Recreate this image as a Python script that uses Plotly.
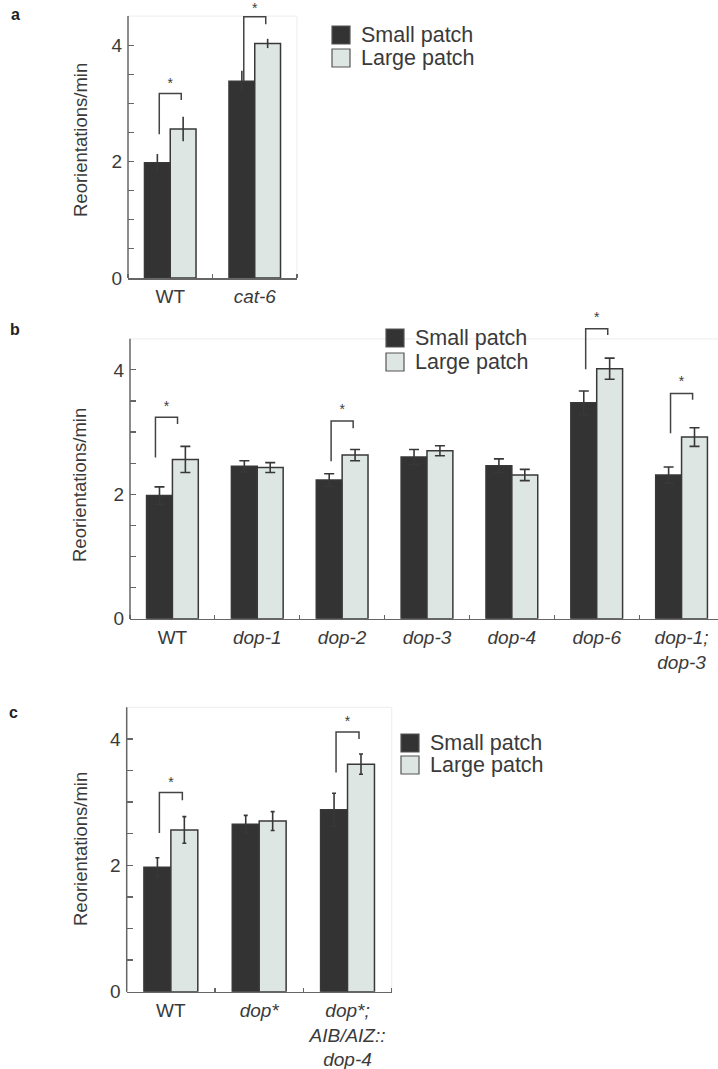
import plotly.graph_objects as go

W, H = 718, 1069

# ---------------- data ----------------
# panel a
a_labels = ["WT", "<i>cat-6</i>"]
a_small = [1.98, 3.38]
a_small_err = [0.15, 0.18]
a_large = [2.56, 4.03]
a_large_err = [0.21, 0.08]
a_sig_cat = [0, 1]
a_sig_shift = [0.0, 0.0]
a_sig_left = [2.47, 3.38]
a_sig_top = [3.17, 4.49]
a_sig_right = [3.06, 4.36]
a_sig_star = [3.33, 4.61]

# panel b
b_labels = ["WT", "<i>dop-1</i>", "<i>dop-2</i>", "<i>dop-3</i>", "<i>dop-4</i>",
            "<i>dop-6</i>", "<i>dop-1;<br>dop-3</i>"]
b_small = [1.98, 2.45, 2.23, 2.60, 2.46, 3.47, 2.31]
b_small_err = [0.14, 0.09, 0.10, 0.12, 0.11, 0.19, 0.13]
b_large = [2.56, 2.43, 2.63, 2.70, 2.31, 4.02, 2.92]
b_large_err = [0.21, 0.08, 0.09, 0.08, 0.09, 0.17, 0.15]
b_sig_cat = [0, 2, 5, 6]
b_sig_shift = [-0.07, 0.0, 0.0, 0.0]
b_sig_left = [2.59, 2.53, 4.01, 2.98]
b_sig_top = [3.24, 3.18, 4.66, 3.62]
b_sig_right = [3.13, 3.06, 4.56, 3.52]
b_sig_star = [3.40, 3.34, 4.83, 3.80]

# panel c
c_labels = ["WT", "<i>dop*</i>", "<i>dop*;<br>AIB/AIZ::<br>dop-4</i>"]
c_small = [1.97, 2.65, 2.88]
c_small_err = [0.15, 0.14, 0.26]
c_large = [2.56, 2.70, 3.60]
c_large_err = [0.21, 0.15, 0.16]
c_sig_cat = [0, 2]
c_sig_shift = [0.0, 0.0]
c_sig_left = [2.51, 3.47]
c_sig_top = [3.15, 4.11]
c_sig_right = [3.03, 4.00]
c_sig_star = [3.30, 4.26]

y_tickvals = [0, 0.5, 1, 1.5, 2, 2.5, 3, 3.5, 4]
y_ticktext = ["0", "", "", "", "2", "", "", "", "4"]
series_names = ["Small patch", "Large patch"]
y_title = "Reorientations/min"
panel_letters = ["a", "b", "c"]

# ---------------- style ----------------
DARK = "#333333"
LIGHT = "#dee6e4"
EDGE = "#383838"
AXIS = "#666666"
FAINT = "#f0f0f0"
TXT = "#3a3a3a"
FONT = "Liberation Sans, Arial, Helvetica, sans-serif"
AXTOP = 4.5
HALF = 0.13

panels = [
    dict(labels=a_labels, small=a_small, se=a_small_err, large=a_large, le=a_large_err,
         sc=a_sig_cat, ss=a_sig_shift, sl=a_sig_left, st=a_sig_top, sr=a_sig_right, sy=a_sig_star,
         left=128, right=297, y0=278, unit=58.2, ytop=4.76, xend=None, cap=0, frame=True,
         leg=(332, 35, 23), title=(80, 140), letter=(15, 15)),
    dict(labels=b_labels, small=b_small, se=b_small_err, large=b_large, le=b_large_err,
         sc=b_sig_cat, ss=b_sig_shift, sl=b_sig_left, st=b_sig_top, sr=b_sig_right, sy=b_sig_star,
         left=130, right=718, y0=618.7, unit=62.2, ytop=4.92, xend=6.5 - 6 / 85, cap=5, frame=False,
         leg=(386, 338, 24), title=(80, 485), letter=(15, 329)),
    dict(labels=c_labels, small=c_small, se=c_small_err, large=c_large, le=c_large_err,
         sc=c_sig_cat, ss=c_sig_shift, sl=c_sig_left, st=c_sig_top, sr=c_sig_right, sy=c_sig_star,
         left=126.7, right=391.7, y0=991.7, unit=63.2, ytop=4.75, xend=None, cap=2, frame=True,
         leg=(401, 743, 22), title=(80, 849), letter=(13, 712)),
]


def px(v):
    return min(1.0, max(0.0, v / W))


def py(v):
    return min(1.0, max(0.0, 1 - v / H))


fig = go.Figure()
shapes = []
annotations = []
layout = {}

for i, p in enumerate(panels):
    sfx = "" if i == 0 else str(i + 1)
    xa, ya = "x" + sfx, "y" + sfx
    n = len(p["labels"])
    xs = list(range(n))
    fig.add_trace(go.Bar(
        x=xs, y=p["small"], name=series_names[0], xaxis=xa, yaxis=ya, showlegend=False,
        marker=dict(color=DARK, line=dict(color=EDGE, width=1.5)),
        error_y=dict(type="data", array=p["se"], color=EDGE, thickness=1.6, width=p["cap"]),
        hoverinfo="skip"))
    fig.add_trace(go.Bar(
        x=xs, y=p["large"], name=series_names[1], xaxis=xa, yaxis=ya, showlegend=False,
        marker=dict(color=LIGHT, line=dict(color=EDGE, width=1.5)),
        error_y=dict(type="data", array=p["le"], color=EDGE, thickness=1.6, width=p["cap"]),
        hoverinfo="skip"))
    # significance brackets
    bx, by = [], []
    for c, s, l, t, r in zip(p["sc"], p["ss"], p["sl"], p["st"], p["sr"]):
        x0, x1 = c + s - HALF, c + s + HALF
        bx += [x0, x0, x1, x1, None]
        by += [l, t, t, r, None]
    fig.add_trace(go.Scatter(x=bx, y=by, mode="lines", xaxis=xa, yaxis=ya,
                             line=dict(color="#444444", width=1.5), showlegend=False,
                             hoverinfo="skip"))
    # stars
    fig.add_trace(go.Scatter(
        x=[c + s for c, s in zip(p["sc"], p["ss"])], y=p["sy"], mode="text",
        text=["*"] * len(p["sc"]), textposition="middle center", cliponaxis=False,
        textfont=dict(family=FONT, size=14, color=TXT), xaxis=xa, yaxis=ya,
        showlegend=False, hoverinfo="skip"))

    xend = p["xend"] if p["xend"] is not None else n - 0.5
    y0 = p["y0"]
    top_px = y0 - p["ytop"] * p["unit"]
    layout["xaxis" + sfx] = dict(
        domain=[px(p["left"]), px(p["right"])], range=[-0.5, xend], anchor=ya,
        tickmode="array", tickvals=xs, ticktext=p["labels"], ticks="",
        minor=dict(tickmode="array", tickvals=[k - 0.5 for k in range(n + 1)],
                   ticks="inside", ticklen=4, tickcolor=AXIS, tickwidth=1.2),
        showline=True, linecolor=AXIS, linewidth=1.5, showgrid=False, zeroline=False,
        tickfont=dict(family=FONT, size=19, color=TXT), ticklabelstandoff=1,
        automargin=False, fixedrange=True)
    layout["yaxis" + sfx] = dict(
        domain=[py(y0), py(top_px)], range=[0, p["ytop"]], anchor=xa,
        tickmode="array", tickvals=y_tickvals, ticktext=y_ticktext,
        ticks="inside", ticklen=6, tickcolor=AXIS, tickwidth=1.2,
        showline=False, showgrid=False, zeroline=False,
        tickfont=dict(family=FONT, size=19, color=TXT), ticklabelstandoff=5,
        automargin=False, fixedrange=True)
    # y axis line up to 4.5 and faint frame
    shapes.append(dict(type="line", xref=xa + " domain", yref=ya, x0=0, x1=0, y0=0, y1=AXTOP,
                       line=dict(color=AXIS, width=1.5)))
    shapes.append(dict(type="line", xref=xa + " domain", yref=ya, x0=0, x1=1, y0=AXTOP, y1=AXTOP,
                       line=dict(color=FAINT, width=1.2), layer="below"))
    if p["frame"]:
        shapes.append(dict(type="line", xref=xa + " domain", yref=ya, x0=1, x1=1, y0=0, y1=AXTOP,
                           line=dict(color=FAINT, width=1.2), layer="below"))
    # y title
    tx, ty = p["title"]
    annotations.append(dict(x=px(tx), y=py(ty), xref="paper", yref="paper",
                            text=y_title, textangle=-90, showarrow=False,
                            xanchor="center", yanchor="middle",
                            font=dict(family=FONT, size=18.5, color=TXT)))
    # panel letter
    lx, ly = p["letter"]
    annotations.append(dict(x=px(lx), y=py(ly), xref="paper", yref="paper",
                            text="<b>" + panel_letters[i] + "</b>", showarrow=False,
                            xanchor="center", yanchor="middle",
                            font=dict(family=FONT, size=16, color="#222222")))
    # legend
    gx, gy, gap = p["leg"]
    for k, (nm, col) in enumerate(zip(series_names, [DARK, LIGHT])):
        cy = gy + k * gap
        shapes.append(dict(type="rect", xref="paper", yref="paper",
                           x0=px(gx), x1=px(gx + 18), y0=py(cy + 9), y1=py(cy - 9),
                           fillcolor=col, line=dict(color="#555555", width=1.2)))
        annotations.append(dict(x=px(gx + 27), y=py(cy), xref="paper", yref="paper",
                                text=nm, showarrow=False, xanchor="left", yanchor="middle",
                                font=dict(family=FONT, size=21.5, color=TXT)))

fig.update_layout(
    width=W, height=H, margin=dict(l=0, r=0, t=0, b=0),
    template="none", paper_bgcolor="white", plot_bgcolor="white",
    barmode="group", bargap=0.39, bargroupgap=0,
    showlegend=False, shapes=shapes, annotations=annotations, **layout)

fig.write_html("out.html", config={"displayModeBar": False, "staticPlot": True},
               post_script="document.body.style.margin='0';document.body.style.overflow='hidden';")
